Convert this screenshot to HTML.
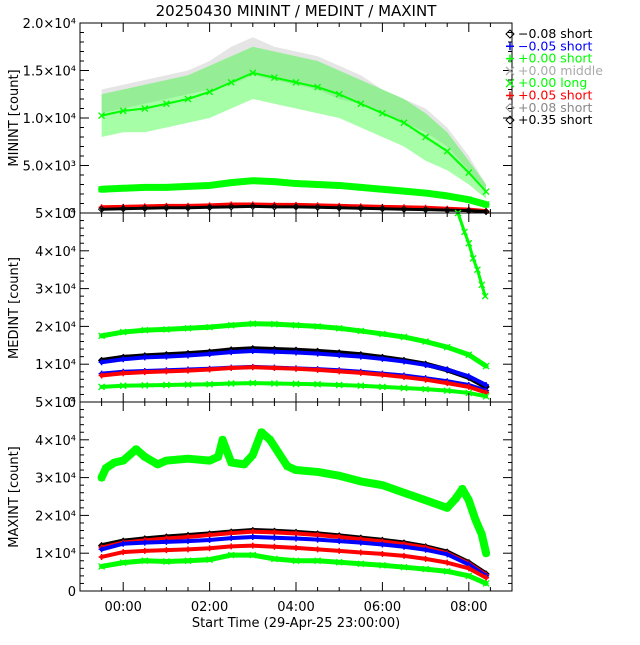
<!DOCTYPE html>
<html><head><meta charset="utf-8"><style>
body{margin:0;background:#fff}
svg{font-family:"DejaVu Sans","Liberation Sans",sans-serif}
</style></head><body>
<svg id="c" width="640" height="640" viewBox="0 0 640 640"></svg>
<script>
// ---- data (hours since 23:00 on 29-Apr-25, counts) ----
const T = [-0.5,0,0.5,1,1.5,2,2.5,3,3.5,4,4.5,5,5.5,6,6.5,7,7.5,8,8.4];
// MININT panel
const minGreenMidHi = [12500,13000,13500,14000,14500,15500,16500,17500,17000,16500,16000,15000,14000,13000,12000,10500,8500,5500,3000];
const minGreenMidLo = [8000,8500,8500,9000,9500,10000,11000,12000,11500,11000,10500,10000,9000,8000,7000,5500,4500,3000,1500];
const minGrayHi     = [13000,13500,14000,14500,15000,16000,17500,18500,17500,17000,16500,15500,14500,13000,12000,11000,9000,6000,3000];
const minGrayLo     = [10500,11000,11500,12000,12500,13000,13500,14500,14000,13500,13000,12000,11500,10500,9500,8500,7000,4500,2000];
const minGreenShort = [2500,2600,2700,2700,2800,2900,3200,3400,3300,3100,3000,2900,2700,2500,2300,2100,1800,1400,900];
const minRed        = [600,650,700,750,750,800,900,900,850,850,800,750,700,650,600,550,450,350,200];
const minBlack      = [400,450,500,550,550,600,650,700,650,650,600,550,500,450,400,350,300,250,150];
// MEDINT panel
const medGreenTop   = [17500,18500,19000,19200,19500,19800,20300,20700,20600,20300,20000,19500,18800,18000,17200,16000,14500,12500,9500];
const medBlack      = [11000,11800,12200,12500,12800,13200,13800,14100,13900,13700,13400,13000,12500,11800,11000,10000,8500,6500,4000];
const medBlueUp     = [10500,11300,11800,12000,12300,12700,13200,13500,13300,13100,12800,12400,12000,11400,10700,9800,8600,6800,4500];
const medBlueLow    = [7500,8000,8200,8400,8600,8800,9100,9300,9100,8900,8700,8400,8000,7500,7000,6300,5500,4500,3000];
const medRed        = [7000,7600,7900,8100,8300,8600,9000,9200,9000,8800,8500,8100,7700,7200,6600,5900,5000,4000,2500];
const medGreenLow   = [4000,4300,4400,4500,4600,4700,4900,5000,4900,4800,4700,4500,4300,4000,3700,3400,3000,2400,1500];
const medSpikeT     = [7.75,7.9,8.0,8.1,8.2,8.3,8.38];
const medSpikeV     = [50000,45000,42000,38000,35000,31000,28000];
// MAXINT panel
const maxHiT        = [-0.5,-0.4,-0.2,0,0.3,0.5,0.8,1,1.5,2,2.2,2.3,2.5,2.8,3.0,3.2,3.4,3.6,3.8,4,4.5,5,5.5,6,6.5,7,7.5,7.7,7.85,8.0,8.15,8.3,8.4];
const maxHiV        = [30000,32500,34000,34500,37500,35500,33500,34500,35000,34500,35500,40000,34000,33500,36000,42000,40000,36500,33000,32000,31500,30500,29000,28000,26000,24000,22000,24500,27000,24000,19000,15000,10000];
const maxBlack      = [12000,13200,13800,14300,14700,15100,15600,16000,15800,15500,15100,14600,14000,13400,12700,11700,10300,7500,4500];
const maxRedUp      = [11500,12800,13400,13900,14300,14800,15300,15700,15500,15200,14800,14300,13700,13100,12400,11500,10000,7300,4300];
const maxBlueUp     = [11000,12500,12800,13000,13200,13500,14000,14300,14100,13900,13600,13200,12800,12300,11700,10900,9700,7000,4000];
const maxLow        = [9000,10300,10600,10800,11000,11300,11800,12000,11700,11400,11000,10600,10200,9800,9300,8500,7500,6000,3500];
const maxGreenLow   = [6500,7500,8000,7800,8000,8300,9500,9500,8500,8000,8000,7600,7200,6800,6300,5800,5200,4000,2000];

const yTicksTop = ["0","5.0×10³","1.0×10⁴","1.5×10⁴","2.0×10⁴"];
const xTickLabels = ["00:00","02:00","04:00","06:00","08:00"];
const xTickHours = [0,2,4,6,8];

const svg = document.getElementById('c');
const NS = 'http://www.w3.org/2000/svg';
function mk(tag, attrs, parent){const e=document.createElementNS(NS,tag);for(const k in attrs)e.setAttribute(k,attrs[k]);(parent||svg).appendChild(e);return e;}

const X0=80,X1=512,H0=-1,H1=9;
const xs = h => X0+(h-H0)/(H1-H0)*(X1-X0);
const panels=[{top:23,bot:213,max:20000},{top:213,bot:402,max:50000},{top:402,bot:591,max:50000}];
const ysF = p => v => p.bot - v/p.max*(p.bot-p.top);

function band(t,hi,lo,p,color,op,name){
  const y=ysF(p);
  let pts=t.map((h,i)=>xs(h)+','+y(hi[i]));
  for(let i=t.length-1;i>=0;i--)pts.push(xs(t[i])+','+y(lo[i]));
  const e=mk('polygon',{points:pts.join(' '),fill:color,'fill-opacity':op});
  
  
}
function marker(g,x,y,sym,color,s){
  if(sym==='x'){mk('path',{d:`M${x-s},${y-s}L${x+s},${y+s}M${x-s},${y+s}L${x+s},${y-s}`,stroke:color,'stroke-width':1.3,fill:'none'},g);}
  else if(sym==='+'){mk('path',{d:`M${x-s},${y}L${x+s},${y}M${x},${y-s}L${x},${y+s}`,stroke:color,'stroke-width':1.5,fill:'none'},g);}
  else {mk('path',{d:`M${x},${y-s}L${x+s},${y}L${x},${y+s}L${x-s},${y}Z`,stroke:color,'stroke-width':1,fill:'none'},g);}
}
function series(t,v,p,color,sym,w,name){
  const y=ysF(p);
  const g=mk('g',{});
  
  
  mk('polyline',{points:t.map((h,i)=>xs(h)+','+y(v[i])).join(' '),fill:'none',stroke:color,'stroke-width':w,'stroke-linejoin':'round','stroke-linecap':'round'},g);
  t.forEach((h,i)=>marker(g,xs(h),y(v[i]),sym,color,3));
}

const P0=panels[0],P1=panels[1],P2=panels[2];
band(T,minGrayHi,minGrayLo,P0,'#aaaaaa',0.3,'mid-gray-scatter');
band(T,minGreenMidHi,minGreenMidLo,P0,'#00ff00',0.35,'min-green-middle-scatter');
series(T,T.map((_,i)=>(minGreenMidHi[i]+minGreenMidLo[i])/2),P0,'#00ff00','x',2,'min-green-middle-center');
series(T,minGreenShort,P0,'#00ff00','x',7,'min-green-short');
series(T,minRed,P0,'#ff0000','+',4,'min-red');
series(T,minBlack,P0,'#000000','d',3,'min-black');
series(T,medGreenTop,P1,'#00ff00','x',5,'med-green-top');
series(T,medBlack,P1,'#000000','d',5,'med-black');
series(T,medBlueUp,P1,'#0000ff','+',4,'med-blue-upper');
series(T,medBlueLow,P1,'#0000ff','+',4,'med-blue-lower');
series(T,medRed,P1,'#ff0000','+',4,'med-red');
series(T,medGreenLow,P1,'#00ff00','x',4,'med-green-low');
series(medSpikeT,medSpikeV,P1,'#00ff00','x',3,'med-green-spike');
series(maxHiT,maxHiV,P2,'#00ff00','x',8,'max-green-high');
series(T,maxBlack,P2,'#000000','d',5,'max-black');
series(T,maxRedUp,P2,'#ff0000','+',4,'max-red-upper');
series(T,maxBlueUp,P2,'#0000ff','+',4,'max-blue-upper');
series(T,maxLow,P2,'#ff0000','+',4,'max-red-lower');
series(T,maxGreenLow,P2,'#00ff00','x',5,'max-green-low');

panels.forEach((p,pi)=>{
  const g=mk('g',{});
  
  
  mk('rect',{x:X0,y:p.top,width:X1-X0,height:p.bot-p.top,fill:'none',stroke:'#000','stroke-width':1},g);
  const y=ysF(p);
  const nMaj = pi===0?4:5, majStep=p.max/nMaj, minStep=majStep/5;
  for(let v=0;v<=p.max+1;v+=minStep){
    const yy=y(v),isMaj=Math.abs(v/majStep-Math.round(v/majStep))<1e-6,L=isMaj?9:4;
    mk('line',{x1:X0,y1:yy,x2:X0+L,y2:yy,stroke:'#000'},g);
    mk('line',{x1:X1,y1:yy,x2:X1-L,y2:yy,stroke:'#000'},g);
  }
  for(let h=-1;h<=9.001;h+=0.5){
    const xx=xs(h),isMaj=Math.abs(h/2-Math.round(h/2))<1e-6,L=isMaj?9:4;
    mk('line',{x1:xx,y1:p.bot,x2:xx,y2:p.bot-L,stroke:'#000'},g);
    mk('line',{x1:xx,y1:p.top,x2:xx,y2:p.top+L,stroke:'#000'},g);
  }
  const labs = pi===0? yTicksTop : ["0","1×10⁴","2×10⁴","3×10⁴","4×10⁴","5×10⁴"];
  labs.forEach((s,i)=>{
    const t=mk('text',{x:76,y:y(i*majStep)+5,'text-anchor':'end','font-size':13,fill:'#000'},g);
    t.textContent=s;
  });
});
xTickHours.forEach((h,i)=>{
  const t=mk('text',{x:xs(h),y:611,'text-anchor':'middle','font-size':13,fill:'#000'});
  
  
  t.textContent=xTickLabels[i];
});
function txt(s,x,y,attrs,name){const t=mk('text',Object.assign({x:x,y:y,'font-size':13,fill:'#000'},attrs));t.textContent=s;return t;}
txt('Start Time (29-Apr-25 23:00:00)',296,627,{'text-anchor':'middle'},'x-axis-title');
txt('20250430 MININT / MEDINT / MAXINT',296,16,{'text-anchor':'middle','font-size':15},'chart-title');
txt('MININT [count]',18,118,{'text-anchor':'middle',transform:'rotate(-90 18 118)'},'y-axis-title-min');
txt('MEDINT [count]',18,308,{'text-anchor':'middle',transform:'rotate(-90 18 308)'},'y-axis-title-med');
txt('MAXINT [count]',18,497,{'text-anchor':'middle',transform:'rotate(-90 18 497)'},'y-axis-title-max');

const legSym=['d','+','+','x','x','+','d','d'];
const legCol=['#000000','#0000ff','#00ff00','#aaaaaa','#00ff00','#ff0000','#888888','#000000'];
const legLab=['−0.08 short','−0.05 short','+0.00 short','+0.00 middle','+0.00 long','+0.05 short','+0.08 short','+0.35 short'];
legLab.forEach((s,i)=>{
  const g=mk('g',{});
  
  
  const yy=34+i*12.3;
  marker(g,510,yy,legSym[i],legCol[i],4);
  const t=mk('text',{x:518,y:yy+4,'font-size':12.5,fill:legCol[i]},g);
  t.textContent=s;
});
</script>
</body></html>
